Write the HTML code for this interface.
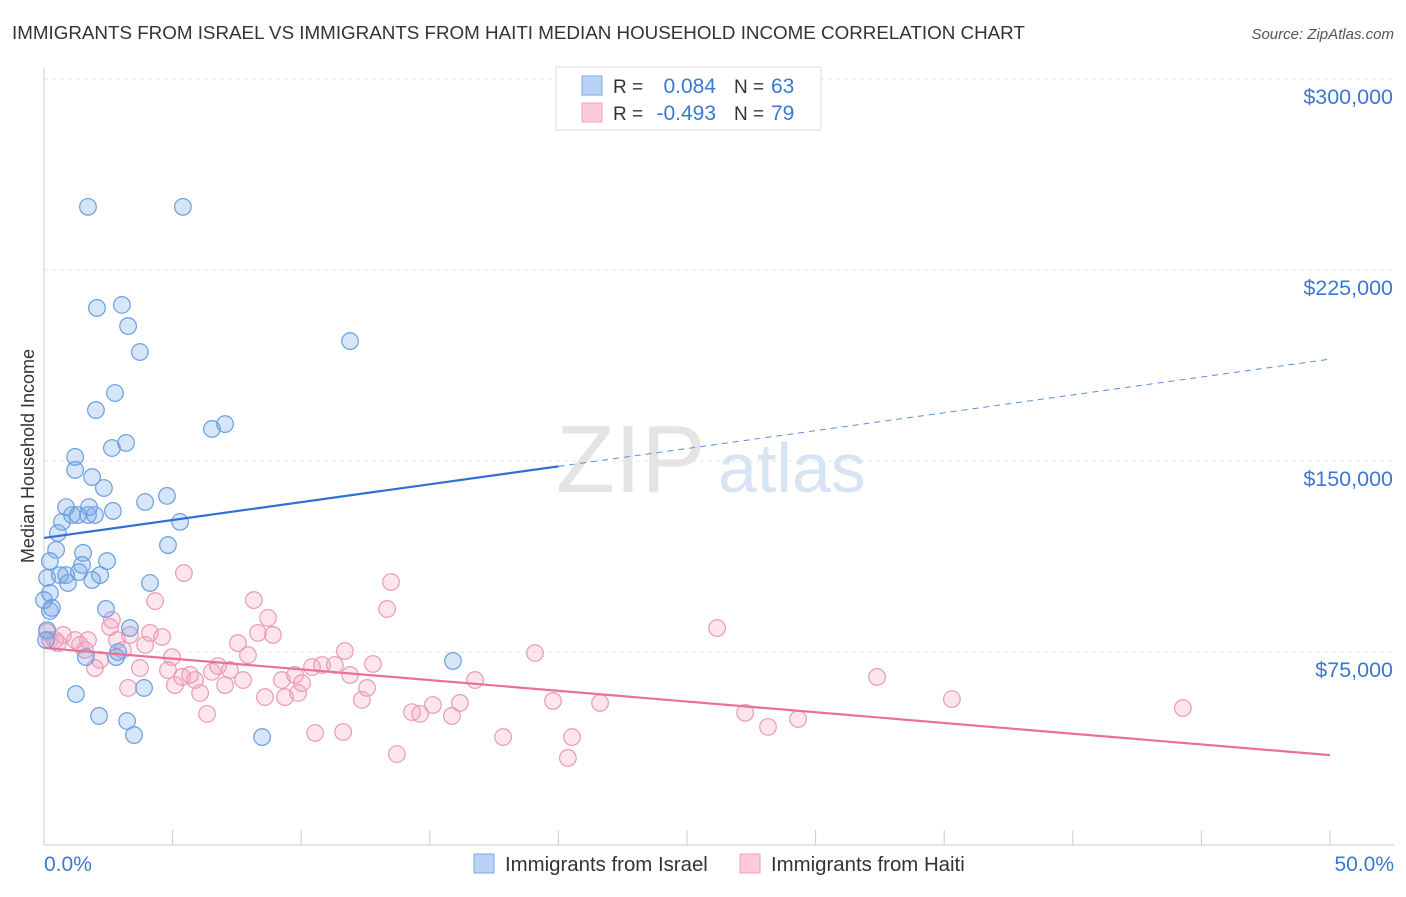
<!DOCTYPE html>
<html><head><meta charset="utf-8"><style>
body{margin:0;background:#fff;font-family:"Liberation Sans",sans-serif}
svg text{font-family:"Liberation Sans",sans-serif}
</style></head><body>
<svg id="chart" width="1406" height="892">
<text x="12" y="39" font-size="18.8" fill="#333">IMMIGRANTS FROM ISRAEL VS IMMIGRANTS FROM HAITI MEDIAN HOUSEHOLD INCOME CORRELATION CHART</text>
<text x="1394" y="39" font-size="15" fill="#555" font-style="italic" text-anchor="end">Source: ZipAtlas.com</text>
<text x="34" y="456" font-size="18" fill="#333" text-anchor="middle" transform="rotate(-90 34 456)">Median Household Income</text>
<text x="556" y="492" font-size="96" fill="#e4e4e4" font-family="Liberation Serif">ZIP</text>
<text x="718" y="492" font-size="70" fill="#d6e4f3">atlas</text>
<g id="grid"></g><g id="axes"></g><g id="pts"></g><g id="trends"></g>
<g>
<rect x="556" y="67" width="265" height="63" fill="#fff" stroke="#ddd"/>
<rect x="582" y="76" width="20" height="19" fill="#b8d3f5" stroke="#7aaae8"/>
<rect x="582" y="103" width="20" height="19" fill="#fbcadb" stroke="#f0a0bd"/>
<text x="613" y="93" font-size="19" fill="#333">R =</text><text x="716" y="93" font-size="21" fill="#3a78d4" text-anchor="end">0.084</text>
<text x="734" y="93" font-size="19" fill="#333">N =</text><text x="771" y="93" font-size="21" fill="#3a78d4">63</text>
<text x="613" y="120" font-size="19" fill="#333">R =</text><text x="716" y="120" font-size="21" fill="#3a78d4" text-anchor="end">-0.493</text>
<text x="734" y="120" font-size="19" fill="#333">N =</text><text x="771" y="120" font-size="21" fill="#3a78d4">79</text>
</g>
<g>
<rect x="474" y="854" width="20" height="19" fill="#b8d3f5" stroke="#7aaae8"/>
<text x="505" y="871" font-size="20.4" fill="#333">Immigrants from Israel</text>
<rect x="740" y="854" width="20" height="19" fill="#fbcadb" stroke="#f0a0bd"/>
<text x="771" y="871" font-size="20.4" fill="#333">Immigrants from Haiti</text>
</g>
</svg>
<script>
const yTicks=[75000,150000,225000,300000];
const yTickLabels=["$75,000","$150,000","$225,000","$300,000"];
const israelX=[1.71,5.40,2.06,3.03,3.27,3.73,11.90,2.76,2.02,6.53,7.04,3.19,2.64,1.21,1.21,1.87,2.33,0.86,1.75,3.93,4.78,1.09,0.70,1.32,1.71,1.98,2.68,5.29,0.54,0.47,1.52,4.82,2.45,1.48,0.23,1.36,0.62,0.86,2.18,1.87,4.12,0.93,0.12,0.23,0.31,0.23,2.41,3.34,0.12,1.63,2.88,2.80,15.90,1.24,3.89,2.14,3.23,3.50,8.48,0.08,0];
const israelY=[249.8,249.8,210.1,211.3,203.0,192.8,197.1,176.7,170.0,162.6,164.5,157.1,155.1,151.6,146.5,143.7,139.4,131.9,131.9,133.9,136.3,128.8,126.1,128.8,128.8,128.8,130.4,126.1,121.7,115.1,113.9,117.0,110.7,109.2,110.7,106.4,105.2,105.2,105.2,103.3,102.1,102.1,104.1,98.2,92.3,91.1,91.9,84.4,83.6,73.0,75.0,73.0,71.5,58.5,60.9,49.9,47.9,42.4,41.6,79.7,95.4];
const haitiX=[0.12,0.23,0.43,0.74,0.54,1.21,1.71,1.40,1.59,2.18,1.98,2.57,2.64,2.84,3.07,3.34,3.73,3.27,3.93,4.32,4.12,4.59,4.98,5.44,4.82,5.09,5.37,5.87,5.68,6.07,6.34,6.53,6.77,7.04,7.23,7.54,7.74,7.93,8.16,8.32,8.71,8.90,8.59,9.37,9.25,9.76,9.88,10.03,10.42,10.81,11.31,11.70,11.90,12.36,12.56,12.79,13.34,13.49,13.72,14.31,14.62,15.12,15.86,16.17,16.76,17.85,19.09,19.79,20.37,20.53,21.62,26.17,27.26,28.15,29.32,32.39,35.30,44.28,10.54,11.63];
const haitiY=[82.9,79.7,79.7,81.7,78.5,79.7,79.7,77.8,75.8,71.9,68.7,84.8,87.6,79.7,75.8,81.7,68.7,60.9,77.8,95.0,82.5,80.9,73.0,106.0,67.9,62.0,65.2,64.0,66.0,58.9,50.7,67.2,69.5,62.0,67.9,78.5,64.0,73.8,95.4,82.5,88.4,81.7,57.3,57.3,64.0,66.0,58.9,62.8,69.1,69.9,69.9,75.4,66.0,56.2,60.9,70.3,91.9,102.5,34.9,51.4,50.7,54.2,49.9,55.0,64.0,41.6,74.6,55.8,33.4,41.6,55.0,84.4,51.1,45.6,48.7,65.2,56.5,53.0,43.2,43.6];
const israelTrend=[119.8,190.0]; const israelSolidEnd=20;
const haitiTrend=[76.6,34.5];
const NS="http://www.w3.org/2000/svg";
const X=p=>44+p*25.72, Y=v=>843-v/75000*191;
function mk(parent,tag,attrs){const e=document.createElementNS(NS,tag);for(const k in attrs)e.setAttribute(k,attrs[k]);document.getElementById(parent).appendChild(e);return e;}
yTicks.forEach((t,i)=>{
 const g=mk('grid','line',{x1:44,x2:1394,y1:Y(t),y2:Y(t),stroke:'#e4e4e4','stroke-dasharray':'4,4'});
 
 
 const tx=mk('grid','text',{x:1393,y:Y(t)+25,'font-size':21.5,fill:'#3a78d4','text-anchor':'end'});
 tx.textContent=yTickLabels[i];
 
 
});
const topGrid=mk('grid','line',{x1:44,x2:1394,y1:79,y2:79,stroke:'#e4e4e4','stroke-dasharray':'4,4'});


const yAxisLine=mk('axes','line',{x1:44,x2:44,y1:68,y2:845,stroke:'#ccc'});


const xAxisLine=mk('axes','line',{x1:44,x2:1394,y1:845,y2:845,stroke:'#ccc'});


for(let p=5;p<=50;p+=5){const t=mk('axes','line',{x1:X(p),x2:X(p),y1:830,y2:845,stroke:'#ccc'});
 
 }
[[0,'0.0%','start',44],[50,'50.0%','end',1394]].forEach(a=>{const t=mk('axes','text',{x:a[3],y:871,'font-size':21,fill:'#3a78d4','text-anchor':a[2]});t.textContent=a[1];
 
 });
function pts(xs,ys,fill,stroke,name){xs.forEach((x,i)=>{const c=mk('pts','circle',{cx:X(x),cy:Y(ys[i]*1000),r:8.3,fill:fill,stroke:stroke,'stroke-width':1.2});
 
 });}
pts(haitiX,haitiY,'rgba(244,160,190,0.28)','#eb9ab8','haiti-point');
pts(israelX,israelY,'rgba(110,160,230,0.28)','#6a9fdf','israel-point');
const slope=(israelTrend[1]-israelTrend[0])/50;
const l1=mk('trends','line',{x1:X(0),y1:Y(israelTrend[0]*1000),x2:X(israelSolidEnd),y2:Y((israelTrend[0]+slope*israelSolidEnd)*1000),stroke:'#2f6fd6','stroke-width':2.2});


const l2=mk('trends','line',{x1:X(israelSolidEnd),y1:Y((israelTrend[0]+slope*israelSolidEnd)*1000),x2:X(50),y2:Y(israelTrend[1]*1000),stroke:'#5b8fd8','stroke-width':1,'stroke-dasharray':'6,5'});


const l3=mk('trends','line',{x1:X(0),y1:Y(haitiTrend[0]*1000),x2:X(50),y2:Y(haitiTrend[1]*1000),stroke:'#e8709a','stroke-width':2.2});


</script>
</body></html>
